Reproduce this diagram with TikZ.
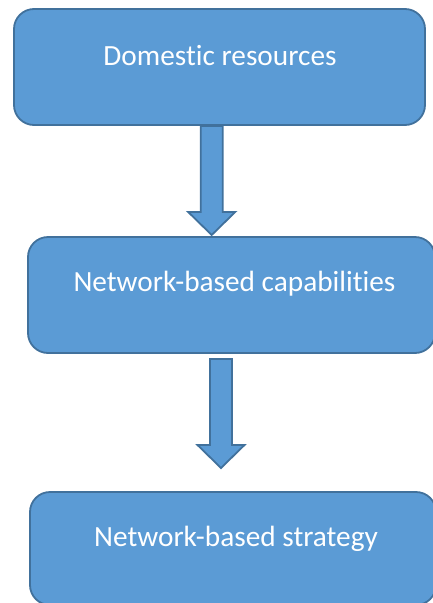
\documentclass[tikz,border=0pt]{standalone}
\usepackage{fontspec}
\setmainfont[Ligatures=NoCommon]{Carlito}
\usetikzlibrary{calc}
\definecolor{boxfill}{HTML}{5B9BD5}
\definecolor{boxline}{HTML}{41719C}
\tikzset{
  stagebox/.style={draw=boxline, line width=1.8pt, fill=boxfill,
    rounded corners=20pt, rectangle, inner sep=0pt},
  stagetext/.style={text=white, font=\fontsize{29.3}{33}\selectfont, inner sep=0pt},
  flowarrow/.style={draw=boxline, line width=1.8pt, fill=boxfill, line join=miter}
}
% block arrow from coordinate #1 (top of shaft) to coordinate #2 (tip)
\newcommand\blockarrow[2]{%
  \draw[flowarrow]
    ($(#1)+(-11,0)$) -- ($(#2)+(-11,-23)$) -- ($(#2)+(-23.5,-23)$) -- (#2)
    -- ($(#2)+(23.5,-23)$) -- ($(#2)+(11,-23)$) -- ($(#1)+(11,0)$) -- cycle;
}
\begin{document}
\begin{tikzpicture}[x=1pt,y=-1pt]
\useasboundingbox (0,0) rectangle (433,603);
\begin{scope}
\clip (0,0) rectangle (433,603);
\node[stagebox, minimum width=411pt, minimum height=116pt] (b1) at (219.5,67) {};
\node[stagebox, minimum width=407pt, minimum height=116pt] (b2) at (231.5,295) {};
\node[stagebox, minimum width=406pt, minimum height=113pt] (b3) at (233,548.5) {};
\node[stagetext] (t1) at (220,56) {Domestic resources};
\node[stagetext] (t2) at (234.5,284) {Network-based capabilities};
\node[stagetext] (t3) at (236,539) {Network-based strategy};

\coordinate (a1s) at (211.7,0 |- b1.south);
\coordinate (a1t) at (211.7,235);
\coordinate (a2s) at (221,359);
\coordinate (a2t) at (221,468);
\blockarrow{a1s}{a1t}
\blockarrow{a2s}{a2t}
\end{scope}
\end{tikzpicture}
\end{document}
